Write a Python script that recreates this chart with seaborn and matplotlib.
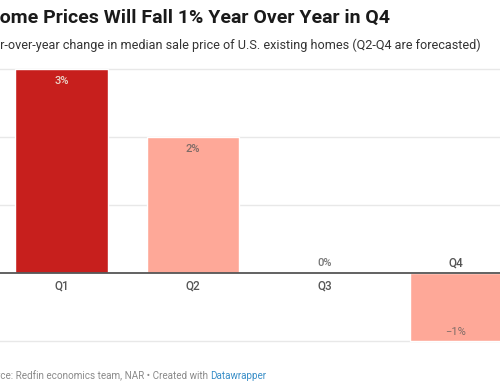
import matplotlib
matplotlib.use("Agg")
import matplotlib.pyplot as plt
import seaborn as sns
import pandas as pd

quarters = ["Q1", "Q2", "Q3", "Q4"]
values = [3, 2, 0, -1]
value_labels = ["3%", "2%", "0%", "\u22121%"]
bar_colors = ["#c71f1d", "#fea898", "#fea898", "#fea898"]
title = "Home Prices Will Fall 1% Year Over Year in Q4"
subtitle = "Year-over-year change in median sale price of U.S. existing homes (Q2-Q4 are forecasted)"
source_prefix = "Source: Redfin economics team, NAR \u2022 Created with "
source_link = "Datawrapper"

sns.set_theme(style="white")
plt.rcParams["font.family"] = ["Roboto", "DejaVu Sans"]

W, H = 500, 383
fig = plt.figure(figsize=(5, 3.83), dpi=100)
fig.patch.set_facecolor("white")

# axes placement (pixel-derived)
px_unit = 68.0
zero_px = 273.0
ylo, yhi = -1.06, 3.06
top_px = zero_px - px_unit * yhi
bot_px = zero_px - px_unit * ylo
step = 131.5
c0 = 61.5
left_px = c0 - 0.5 * step
right_px = c0 + 3.5 * step
ax = fig.add_axes([left_px / W, 1 - bot_px / H, (right_px - left_px) / W, (bot_px - top_px) / H])

df = pd.DataFrame({"q": quarters, "v": values})
sns.barplot(data=df, x="q", y="v", hue="q", palette=bar_colors, legend=False,
            width=0.7, ax=ax, saturation=1, zorder=2)
ax.set_xlim(-0.5, 3.5)
ax.set_ylim(ylo, yhi)
for s in ax.spines.values():
    s.set_visible(False)
ax.set_xticks([])
ax.set_yticks([])
ax.set_xlabel("")
ax.set_ylabel("")
for g in [3, 2, 1, -1]:
    ax.axhline(g, color="#e8e8e8", lw=1.0, zorder=1)
ax.axhline(0, color="#555555", lw=1.3, zorder=3)

lab_col = {0: "#ead8cb", 1: "#7d6b66", 2: "#888888", 3: "#7d6b66"}
for i, (q, v, lab) in enumerate(zip(quarters, values, value_labels)):
    if v > 0:
        ax.annotate(lab, (i, v), xytext=(0, -8.6), textcoords="offset points",
                    ha="center", va="center", fontsize=8, fontweight="medium", color=lab_col[i])
        ax.annotate(q, (i, 0), xytext=(0, -9.5), textcoords="offset points",
                    ha="center", va="center", fontsize=8.5, color="#555555", fontweight="medium")
    elif v == 0:
        ax.annotate(lab, (i, 0), xytext=(0, 7.2), textcoords="offset points",
                    ha="center", va="center", fontsize=8, color="#777777", fontweight="medium")
        ax.annotate(q, (i, 0), xytext=(0, -9.5), textcoords="offset points",
                    ha="center", va="center", fontsize=8.5, color="#555555", fontweight="medium")
    else:
        ax.annotate(lab, (i, v), xytext=(0, 6.5), textcoords="offset points",
                    ha="center", va="center", fontsize=8, color=lab_col[i])
        ax.annotate(q, (i, 0), xytext=(0, 7.2), textcoords="offset points",
                    ha="center", va="center", fontsize=8.5, color="#555555", fontweight="medium")

renderer = fig.canvas.get_renderer()

def clipped_text(full, hidden, x_px, y_px, **kw):
    t = fig.text(0, 0, hidden, **kw)
    w = t.get_window_extent(renderer).width
    t.remove()
    return fig.text((x_px - w) / W, 1 - y_px / H, full, va="center", **kw)

clipped_text(title, "H", 0, 18, fontsize=14, fontweight="bold", color="#1a1a1a")
clipped_text(subtitle, "Yea", 0, 45, fontsize=9.1, color="#333333")
t = clipped_text(source_prefix, "Sour", 0, 376, fontsize=7.1, color="#8a8a8a")
bb = t.get_window_extent(renderer)
fig.text(bb.x1 / W, 1 - 376 / H, source_link, va="center", fontsize=7.1, color="#3a8fc8")

fig.savefig("out.png", dpi=100, facecolor="white")
